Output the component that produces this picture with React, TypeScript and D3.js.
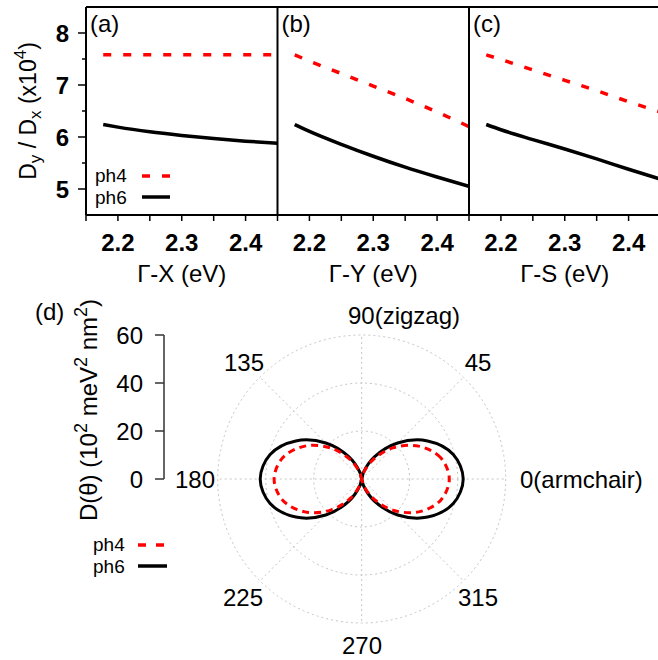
import React from "react";
import * as d3 from "d3";

// ---------- data: top panels ----------
const energies = [2.177, 2.2, 2.25, 2.3, 2.35, 2.4, 2.45];
const ph4GX = [7.58, 7.58, 7.58, 7.58, 7.58, 7.58, 7.58];
const ph6GX = [6.24, 6.19, 6.1, 6.03, 5.97, 5.92, 5.88];
const ph4GY = [7.58, 7.46, 7.22, 6.98, 6.74, 6.48, 6.2];
const ph6GY = [6.24, 6.11, 5.86, 5.63, 5.42, 5.23, 5.05];
const ph4GS = [7.58, 7.49, 7.29, 7.09, 6.89, 6.68, 6.48];
const ph6GS = [6.24, 6.14, 5.95, 5.77, 5.58, 5.38, 5.19];
const panelLabels = ["(a)", "(b)", "(c)"];
const panelTitles = ["\u0393-X (eV)", "\u0393-Y (eV)", "\u0393-S (eV)"];
const xTickLabels = [2.2, 2.3, 2.4];
const xTicksAll = [2.15, 2.2, 2.25, 2.3, 2.35, 2.4];
const yMajor = [5, 6, 7, 8];
const yMinor = [5.5, 6.5, 7.5];

// ---------- data: polar panel ----------
const anglesDeg = [0, 15, 30, 45, 60, 75, 90, 105, 120, 135, 150, 165, 180, 195, 210, 225, 240, 255, 270, 285, 300, 315, 330, 345];
const ph4D = [36.5, 34.1, 27.4, 18.3, 9.1, 2.4, 0, 2.4, 9.1, 18.3, 27.4, 34.1, 36.5, 34.1, 27.4, 18.3, 9.1, 2.4, 0, 2.4, 9.1, 18.3, 27.4, 34.1];
const ph6D = [42.3, 39.5, 31.7, 21.2, 10.6, 2.8, 0, 2.8, 10.6, 21.2, 31.7, 39.5, 42.3, 39.5, 31.7, 21.2, 10.6, 2.8, 0, 2.8, 10.6, 21.2, 31.7, 39.5];
const rTicks = [0, 20, 40, 60];
const gridRadii = [20, 40, 60];
const spokeAngles = [0, 45, 90, 135, 180, 225, 270, 315];

const FONT = "'Liberation Sans', Arial, Helvetica, sans-serif";
const RED = "#ff0000";
const FS = 24;

export default function App() {
  const W = 658, H = 660;
  const top = 7, bottom = 215;
  const panelX = [86, 277.5, 469];
  const panelW = 191.5;
  const y = d3.scaleLinear().domain([4.5, 8.5]).range([bottom, top]);
  const series = [
    [ph4GX, ph6GX],
    [ph4GY, ph6GY],
    [ph4GS, ph6GS],
  ];

  // polar
  const cx = 361.7, cy = 479;
  const r = d3.scaleLinear().domain([0, 60]).range([0, 144]);
  const toRad = (deg: number) => (deg * Math.PI) / 180;
  const radial = (vals: number[]) =>
    d3
      .lineRadial<number>()
      .angle((_, i) => Math.PI / 2 - toRad(anglesDeg[i]))
      .radius((v) => r(v))
      .curve(d3.curveCatmullRomClosed.alpha(0.5))(vals) || "";

  const polarLabels = [
    { t: "90(zigzag)", x: 348, y: 324, a: "start" },
    { t: "45", x: 478, y: 371, a: "middle" },
    { t: "0(armchair)", x: 520, y: 488, a: "start" },
    { t: "315", x: 478, y: 606, a: "middle" },
    { t: "270", x: 362, y: 654, a: "middle" },
    { t: "225", x: 243, y: 606, a: "middle" },
    { t: "180", x: 215, y: 488, a: "end" },
    { t: "135", x: 244, y: 371, a: "middle" },
  ];

  return (
    <svg
      width={W}
      height={H}
      style={{ position: "absolute", left: 0, top: 0, background: "#fff" }}
      fontFamily={FONT}
    >
      <rect x={0} y={0} width={W} height={H} fill="#fff" />
      {/* ---------- top panels ---------- */}
      {panelX.map((x0, p) => {
        const x = d3.scaleLinear().domain([2.15, 2.45]).range([x0, x0 + panelW]);
        const line = d3
          .line<number>()
          .x((_, i) => x(energies[i]))
          .y((v) => y(v))
          .curve(d3.curveMonotoneX);
        const [s4, s6] = series[p];
        return (
          <g key={p}>
            <defs>
              <clipPath id={`clip${p}`}>
                <rect x={x0} y={top} width={panelW} height={bottom - top} />
              </clipPath>
            </defs>
            <g clipPath={`url(#clip${p})`}>
              <path d={line(s4) || ""} fill="none" stroke={RED} strokeWidth={3.5} strokeDasharray="8,12" />
              <path d={line(s6) || ""} fill="none" stroke="#000" strokeWidth={3.5} />
            </g>
            <line x1={x0} x2={x0} y1={top} y2={bottom} stroke="#000" strokeWidth={2} />
            {xTicksAll.map((t) => (
              <line key={t} x1={x(t)} x2={x(t)} y1={bottom} y2={bottom + 6} stroke="#000" strokeWidth={1.5} />
            ))}
            {xTickLabels.map((t) => (
              <text key={t} x={x(t)} y={251} textAnchor="middle" fontSize={FS} fontWeight="bold">
                {t.toFixed(1)}
              </text>
            ))}
            <text x={x0 + panelW / 2} y={282} textAnchor="middle" fontSize={FS}>
              {panelTitles[p]}
            </text>
            <text x={x0 + 4} y={32} fontSize={FS}>
              {panelLabels[p]}
            </text>
          </g>
        );
      })}
      <line x1={86} x2={W} y1={top} y2={top} stroke="#000" strokeWidth={2} />
      <line x1={86} x2={W} y1={bottom} y2={bottom} stroke="#000" strokeWidth={2} />
      {yMajor.map((t) => (
        <g key={t}>
          <line x1={78} x2={86} y1={y(t)} y2={y(t)} stroke="#000" strokeWidth={1.5} />
          <text x={69} y={y(t) + 8.5} textAnchor="end" fontSize={FS} fontWeight="bold">
            {t}
          </text>
        </g>
      ))}
      {yMinor.map((t) => (
        <line key={t} x1={82} x2={86} y1={y(t)} y2={y(t)} stroke="#000" strokeWidth={1.5} />
      ))}
      <text transform="translate(36,111) rotate(-90)" textAnchor="middle" fontSize={23}>
        D<tspan dy={5} fontSize={17}>y</tspan>
        <tspan dy={-5}> / D</tspan>
        <tspan dy={5} fontSize={17}>x</tspan>
        <tspan dy={-5}> (x10</tspan>
        <tspan dy={-10} fontSize={17}>4</tspan>
        <tspan dy={10}>)</tspan>
      </text>
      {/* top legend */}
      <text x={95} y={182} fontSize={19}>ph4</text>
      <line x1={142} x2={170} y1={176} y2={176} stroke={RED} strokeWidth={3.5} strokeDasharray="8,12" />
      <text x={95} y={204} fontSize={19}>ph6</text>
      <line x1={142} x2={170} y1={197} y2={197} stroke="#000" strokeWidth={3.5} />

      {/* ---------- polar panel ---------- */}
      <g>
        {gridRadii.map((g) => (
          <circle key={g} cx={cx} cy={cy} r={r(g)} fill="none" stroke="#c4c4c4" strokeWidth={1} strokeDasharray="2,3" />
        ))}
        {spokeAngles.map((a) => (
          <line
            key={a}
            x1={cx}
            y1={cy}
            x2={cx + r(60) * Math.cos(toRad(a))}
            y2={cy - r(60) * Math.sin(toRad(a))}
            stroke="#c4c4c4"
            strokeWidth={1}
            strokeDasharray="2,3"
          />
        ))}
        <g transform={`translate(${cx},${cy})`}>
          <path d={radial(ph6D)} fill="none" stroke="#000" strokeWidth={3} />
          <path d={radial(ph4D)} fill="none" stroke={RED} strokeWidth={3} strokeDasharray="7,5" />
        </g>
        {polarLabels.map((l) => (
          <text key={l.t} x={l.x} y={l.y} textAnchor={l.a as any} fontSize={FS}>
            {l.t}
          </text>
        ))}
        {/* radial axis */}
        <line x1={164} x2={164} y1={cy - r(60)} y2={cy} stroke="#333" strokeWidth={1.5} />
        {rTicks.map((t) => (
          <g key={t}>
            <line x1={155} x2={164} y1={cy - r(t)} y2={cy - r(t)} stroke="#333" strokeWidth={1.5} />
            <text x={143} y={cy - r(t) + 8.5} textAnchor="end" fontSize={FS}>
              {t}
            </text>
          </g>
        ))}
        <text x={35} y={320} fontSize={FS}>(d)</text>
        <text transform="translate(97,410) rotate(-90)" textAnchor="middle" fontSize={FS}>
          D(θ) (10<tspan dy={-10} fontSize={18}>2</tspan>
          <tspan dy={10}> meV</tspan>
          <tspan dy={-10} fontSize={18}>2</tspan>
          <tspan dy={10}> nm</tspan>
          <tspan dy={-10} fontSize={18}>2</tspan>
          <tspan dy={10}>)</tspan>
        </text>
        {/* polar legend */}
        <text x={93} y={551} fontSize={19}>ph4</text>
        <line x1={138} x2={167} y1={545} y2={545} stroke={RED} strokeWidth={3.5} strokeDasharray="8,10" />
        <text x={93} y={573} fontSize={19}>ph6</text>
        <line x1={138} x2={167} y1={566} y2={566} stroke="#000" strokeWidth={3.5} />
      </g>
    </svg>
  );
}
